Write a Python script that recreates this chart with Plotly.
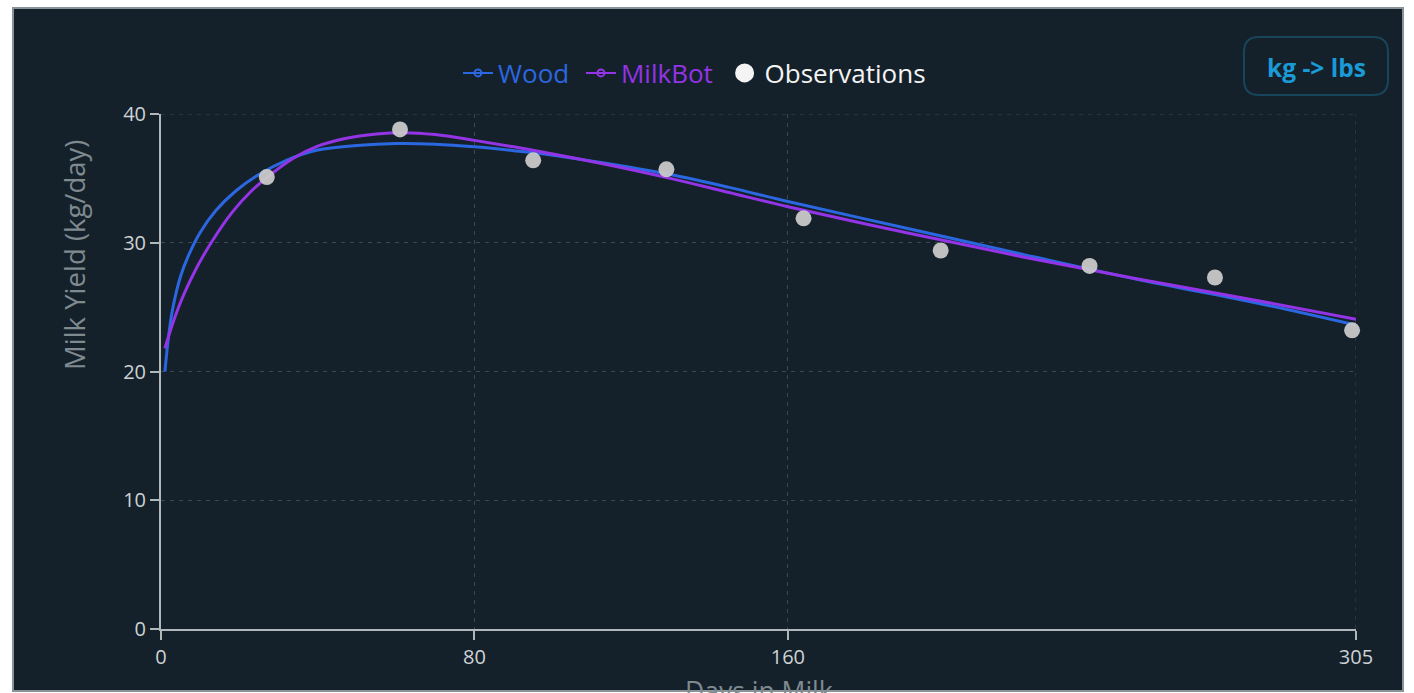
import plotly.graph_objects as go

# ---- data -------------------------------------------------------------
obs_days = [27, 61, 95, 129, 164, 199, 237, 269, 304]
obs_yield = [35.1, 38.8, 36.4, 35.7, 31.9, 29.4, 28.2, 27.3, 23.2]

wood_days = [1, 2, 3, 5, 7, 10, 14, 19, 25, 32, 40, 50, 60, 70, 80, 90, 100, 115, 130, 145,
             160, 190, 220, 250, 280, 305]
wood_yield = [20.0, 22.9, 24.9, 27.4, 29.0, 30.8, 32.5, 34.0, 35.3, 36.4, 37.2, 37.55, 37.7, 37.65,
              37.45, 37.15, 36.8, 36.1, 35.3, 34.3, 33.2, 31.15, 29.1, 27.1, 25.3, 23.6]

milkbot_days = [1, 2, 4, 6, 9, 13, 18, 23, 28, 34, 40, 47, 55, 62, 70, 80, 90, 100, 115, 130,
                145, 160, 190, 220, 250, 280, 305]
milkbot_yield = [21.8, 22.8, 24.6, 26.1, 28.0, 30.1, 32.3, 34.0, 35.3, 36.6, 37.5, 38.1, 38.45,
                 38.55, 38.4, 37.95, 37.45, 36.9, 36.0, 35.0, 33.9, 32.8, 30.8, 28.9, 27.15, 25.5,
                 24.05]

x_ticks = [0, 80, 160, 305]
y_ticks = [0, 10, 20, 30, 40]

# ---- styling ----------------------------------------------------------
W, H = 1414, 693
PL, PR, PT, PB = 161, 1356, 114, 629      # plot area in pixels
BG = "#15212a"
BLUE = "#2b67e0"
PURPLE = "#9334e6"
AXIS = "#b0b8bc"
TICK_TXT = "#cdd2d5"
TITLE_TXT = "#7f8a90"
GRID = "#3a4850"
GRID_DASH = "4px,5px"
FONT = "Open Sans"


def px(xp):
    return (xp - PL) / (PR - PL)


def py(yp):
    return (PB - yp) / (PB - PT)


def rounded_rect(x0, y0, x1, y1, r):
    pts = [
        ("M", [(x0 + r, y0)]),
        ("L", [(x1 - r, y0)]),
        ("Q", [(x1, y0), (x1, y0 + r)]),
        ("L", [(x1, y1 - r)]),
        ("Q", [(x1, y1), (x1 - r, y1)]),
        ("L", [(x0 + r, y1)]),
        ("Q", [(x0, y1), (x0, y1 - r)]),
        ("L", [(x0, y0 + r)]),
        ("Q", [(x0, y0), (x0 + r, y0)]),
    ]
    out = []
    for cmd, ps in pts:
        out.append(cmd + " ".join(f"{px(a):.5f},{py(b):.5f}" for a, b in ps))
    return " ".join(out) + " Z"


fig = go.Figure()

fig.add_trace(go.Scatter(
    x=wood_days, y=wood_yield, mode="lines",
    line=dict(color=BLUE, width=3, shape="spline", smoothing=1.0),
    showlegend=False, name="Wood"))
fig.add_trace(go.Scatter(
    x=milkbot_days, y=milkbot_yield, mode="lines",
    line=dict(color=PURPLE, width=3, shape="spline", smoothing=1.0),
    showlegend=False, name="MilkBot"))
fig.add_trace(go.Scatter(
    x=obs_days, y=obs_yield, mode="markers", cliponaxis=False,
    marker=dict(color="#c9c9c9", size=16, opacity=0.95, line=dict(width=0)),
    showlegend=False, name="Observations"))

# legend entries
fig.add_trace(go.Scatter(
    x=[None], y=[None], mode="lines+markers",
    line=dict(color=BLUE, width=2),
    marker=dict(symbol="circle-open", size=7, color=BLUE, line=dict(width=2)),
    name=f"<span style='color:{BLUE}'>Wood&nbsp;</span>"))
fig.add_trace(go.Scatter(
    x=[None], y=[None], mode="lines+markers",
    line=dict(color=PURPLE, width=2),
    marker=dict(symbol="circle-open", size=7, color=PURPLE, line=dict(width=2)),
    name=f"<span style='color:{PURPLE}'>MilkBot&nbsp;</span>"))
fig.add_trace(go.Scatter(
    x=[None], y=[None], mode="markers",
    marker=dict(symbol="circle", size=16, color="#f4f4f4", line=dict(color="#f4f4f4", width=3)),
    name="<span style='color:#f4f4f4'>Observations</span>"))

axis_common = dict(
    showline=True, linecolor=AXIS, linewidth=2,
    ticks="outside", ticklen=9, tickwidth=2, tickcolor=AXIS,
    tickfont=dict(family=FONT, size=20, color=TICK_TXT),
    showgrid=True, gridcolor=GRID, gridwidth=1, griddash=GRID_DASH,
    zeroline=False, fixedrange=True,
)

fig.update_layout(
    width=W, height=H,
    margin=dict(l=PL, r=W - PR, t=PT, b=H - PB, pad=0),
    paper_bgcolor="white",
    plot_bgcolor="rgba(0,0,0,0)",
    font=dict(family=FONT, color=TICK_TXT),
    xaxis=dict(range=[0, 305], tickvals=x_ticks, ticktext=[str(v) for v in x_ticks], **axis_common),
    yaxis=dict(range=[0, 40], tickvals=y_ticks, ticktext=[str(v) for v in y_ticks], **axis_common),
    legend=dict(
        orientation="h", x=px(458), xanchor="left", y=py(73), yanchor="middle",
        bgcolor="rgba(0,0,0,0)", font=dict(family=FONT, size=26),
        itemwidth=30, traceorder="normal",
    ),
    shapes=[
        dict(type="rect", xref="paper", yref="paper", layer="below",
             x0=px(13), x1=px(1403), y0=py(691), y1=py(8),
             fillcolor=BG, line=dict(color="#8a9398", width=2)),
        # grid lines along the top and right edges of the plot area
        dict(type="line", xref="x", yref="y", layer="below", x0=0, x1=305, y0=40, y1=40,
             line=dict(color=GRID, width=1, dash=GRID_DASH)),
        dict(type="line", xref="x", yref="y", layer="below", x0=305, x1=305, y0=0, y1=40,
             line=dict(color=GRID, width=1, dash=GRID_DASH)),
        dict(type="path", xref="paper", yref="paper", layer="above",
             path=rounded_rect(1244, 37, 1388, 95, 15),
             fillcolor="rgba(0,0,0,0)", line=dict(color="#17455c", width=2)),
    ],
    annotations=[
        dict(text="Milk Yield (kg/day)", xref="paper", yref="paper",
             x=px(75), y=py(255), xanchor="center", yanchor="middle",
             textangle=-90, showarrow=False,
             font=dict(family=FONT, size=27.5, color=TITLE_TXT)),
        dict(text="Days in Milk", xref="paper", yref="paper",
             x=0.5, y=py(671), xanchor="center", yanchor="top",
             showarrow=False, font=dict(family=FONT, size=26.5, color=TITLE_TXT)),
        dict(text="<b>kg -> lbs</b>", xref="paper", yref="paper",
             x=px(1316), y=py(67), xanchor="center", yanchor="middle",
             showarrow=False, font=dict(family=FONT, size=24.5, color="#1a9ad6")),
    ],
)

fig.write_html("out.html")
